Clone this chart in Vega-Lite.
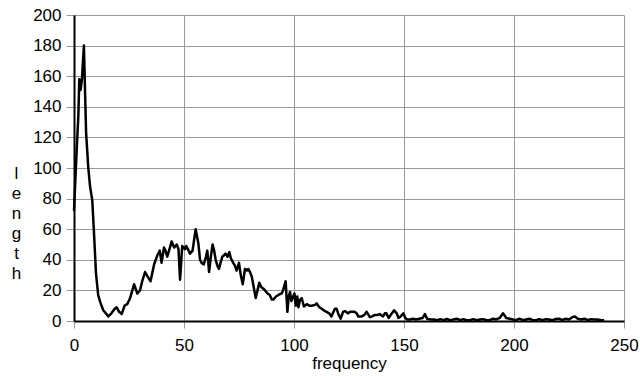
{
  "$schema": "https://vega.github.io/schema/vega-lite/v6.json",
  "width": 550,
  "height": 306,
  "autosize": {"type": "none"},
  "padding": {"left": 74, "top": 15, "right": 16, "bottom": 55},
  "background": "white",
  "config": {
    "view": {"stroke": null},
    "font": "Liberation Sans",
    "axis": {
      "labelFont": "Liberation Sans",
      "titleFont": "Liberation Sans",
      "labelFontSize": 17,
      "titleFontSize": 17,
      "labelColor": "black",
      "titleColor": "black",
      "titleFontWeight": "normal",
      "gridColor": "#999999",
      "gridWidth": 1,
      "gridOpacity": 1,
      "tickColor": "#999999",
      "tickWidth": 1,
      "domainColor": "black",
      "domainWidth": 2
    }
  },
  "data": {
    "values": [
      {"f": 0, "v": 72}, {"f": 1, "v": 105}, {"f": 2, "v": 135}, {"f": 2.4, "v": 158}, {"f": 3, "v": 151}, {"f": 3.6, "v": 158}, {"f": 4.5, "v": 180}, {"f": 5.5, "v": 123}, {"f": 6.5, "v": 100}, {"f": 7.3, "v": 88}, {"f": 8.3, "v": 79}, {"f": 9, "v": 60}, {"f": 10, "v": 31}, {"f": 11, "v": 17}, {"f": 12, "v": 12}, {"f": 13.3, "v": 7}, {"f": 14.5, "v": 5}, {"f": 15.6, "v": 3}, {"f": 17, "v": 5}, {"f": 18.5, "v": 8}, {"f": 19.4, "v": 9}, {"f": 20.5, "v": 6}, {"f": 21.7, "v": 4.6}, {"f": 23, "v": 10}, {"f": 24.2, "v": 11}, {"f": 25.5, "v": 15}, {"f": 27.3, "v": 24}, {"f": 28.8, "v": 18}, {"f": 30, "v": 20}, {"f": 31, "v": 26}, {"f": 32.3, "v": 32}, {"f": 33.5, "v": 29}, {"f": 34.8, "v": 26}, {"f": 36.4, "v": 37}, {"f": 37.9, "v": 43}, {"f": 39, "v": 46}, {"f": 39.8, "v": 38}, {"f": 40.9, "v": 48}, {"f": 41.6, "v": 46}, {"f": 42.4, "v": 42}, {"f": 43.4, "v": 47}, {"f": 44.4, "v": 52}, {"f": 45.5, "v": 48}, {"f": 46.7, "v": 50}, {"f": 47.5, "v": 47}, {"f": 48.2, "v": 27}, {"f": 49.2, "v": 49}, {"f": 50.5, "v": 47}, {"f": 51, "v": 49}, {"f": 51.8, "v": 47}, {"f": 52.7, "v": 44}, {"f": 53.9, "v": 46}, {"f": 55.3, "v": 60}, {"f": 56.5, "v": 51}, {"f": 57.3, "v": 40}, {"f": 58, "v": 38}, {"f": 59, "v": 37}, {"f": 60, "v": 42}, {"f": 60.6, "v": 46}, {"f": 61.4, "v": 32}, {"f": 62.2, "v": 42}, {"f": 63, "v": 50}, {"f": 63.7, "v": 46}, {"f": 64.4, "v": 40}, {"f": 65.2, "v": 36}, {"f": 65.9, "v": 34}, {"f": 66.6, "v": 38}, {"f": 67.4, "v": 42}, {"f": 68.2, "v": 43}, {"f": 68.9, "v": 44}, {"f": 69.8, "v": 42}, {"f": 70.6, "v": 45}, {"f": 71.3, "v": 41}, {"f": 72.4, "v": 38}, {"f": 73.2, "v": 36}, {"f": 73.9, "v": 33}, {"f": 75, "v": 38}, {"f": 75.8, "v": 30}, {"f": 76.7, "v": 24}, {"f": 77.7, "v": 34}, {"f": 78.5, "v": 33}, {"f": 79.2, "v": 34}, {"f": 80, "v": 32}, {"f": 80.8, "v": 29}, {"f": 81.7, "v": 22}, {"f": 82.6, "v": 15}, {"f": 83.4, "v": 20}, {"f": 84.2, "v": 25}, {"f": 85.2, "v": 22}, {"f": 86.2, "v": 21}, {"f": 86.8, "v": 20}, {"f": 88, "v": 18}, {"f": 89, "v": 17}, {"f": 89.9, "v": 14}, {"f": 90.6, "v": 14}, {"f": 91.8, "v": 16}, {"f": 92.9, "v": 17}, {"f": 94.4, "v": 18}, {"f": 95, "v": 20}, {"f": 96.2, "v": 26}, {"f": 97, "v": 6}, {"f": 97.6, "v": 16}, {"f": 98.2, "v": 19}, {"f": 98.8, "v": 13}, {"f": 99.4, "v": 15}, {"f": 100.2, "v": 18}, {"f": 100.8, "v": 10}, {"f": 101.5, "v": 16}, {"f": 102, "v": 9}, {"f": 102.8, "v": 14}, {"f": 103.5, "v": 15}, {"f": 104.5, "v": 9.5}, {"f": 105.8, "v": 11}, {"f": 107, "v": 10}, {"f": 108, "v": 10}, {"f": 109.5, "v": 10.5}, {"f": 110.3, "v": 11.5}, {"f": 111.5, "v": 9}, {"f": 112.6, "v": 8}, {"f": 113.5, "v": 7}, {"f": 114.8, "v": 6}, {"f": 116, "v": 5}, {"f": 117, "v": 3}, {"f": 118.6, "v": 8}, {"f": 119.4, "v": 8}, {"f": 120.3, "v": 4}, {"f": 121.2, "v": 1.5}, {"f": 122.3, "v": 6}, {"f": 123.2, "v": 6.5}, {"f": 124.5, "v": 5}, {"f": 125.5, "v": 6}, {"f": 126.5, "v": 6}, {"f": 127.5, "v": 6}, {"f": 128.5, "v": 5}, {"f": 129.2, "v": 3}, {"f": 130.8, "v": 3}, {"f": 132, "v": 4}, {"f": 133, "v": 6}, {"f": 134.5, "v": 2.5}, {"f": 135.5, "v": 3}, {"f": 136.8, "v": 4}, {"f": 138, "v": 4}, {"f": 139, "v": 4.5}, {"f": 140.5, "v": 3}, {"f": 141.3, "v": 5}, {"f": 142, "v": 5}, {"f": 143, "v": 2}, {"f": 144, "v": 4}, {"f": 145.5, "v": 7}, {"f": 146.7, "v": 5}, {"f": 147.5, "v": 2}, {"f": 148.5, "v": 3}, {"f": 149.7, "v": 5}, {"f": 150.6, "v": 2}, {"f": 151.5, "v": 1}, {"f": 152.7, "v": 1}, {"f": 154, "v": 1.5}, {"f": 155.5, "v": 1}, {"f": 157, "v": 1.5}, {"f": 158.5, "v": 2}, {"f": 159.5, "v": 4.5}, {"f": 160.5, "v": 1.5}, {"f": 162, "v": 1}, {"f": 163.5, "v": 1}, {"f": 165, "v": 0.5}, {"f": 166.5, "v": 1.2}, {"f": 168, "v": 0.5}, {"f": 169.5, "v": 1.3}, {"f": 171, "v": 0.5}, {"f": 172.5, "v": 1}, {"f": 174, "v": 1.5}, {"f": 175.5, "v": 0.5}, {"f": 177, "v": 1.2}, {"f": 178.5, "v": 0.5}, {"f": 180, "v": 0.5}, {"f": 181.5, "v": 1.2}, {"f": 183, "v": 0.5}, {"f": 184.5, "v": 1}, {"f": 186, "v": 1.2}, {"f": 187.5, "v": 0.5}, {"f": 189, "v": 0.5}, {"f": 190.5, "v": 1.5}, {"f": 192, "v": 1}, {"f": 193.5, "v": 2}, {"f": 195, "v": 5}, {"f": 196.5, "v": 2}, {"f": 198, "v": 1.5}, {"f": 199.5, "v": 1}, {"f": 201, "v": 0.5}, {"f": 202.5, "v": 1.5}, {"f": 204, "v": 0.5}, {"f": 205.5, "v": 1}, {"f": 207, "v": 1.5}, {"f": 208.5, "v": 0.5}, {"f": 210, "v": 0.5}, {"f": 211.5, "v": 1.2}, {"f": 213, "v": 0.5}, {"f": 214.5, "v": 1.2}, {"f": 216, "v": 1}, {"f": 217.5, "v": 0.5}, {"f": 219, "v": 1.3}, {"f": 220.5, "v": 1.5}, {"f": 222, "v": 0.5}, {"f": 223.5, "v": 1.5}, {"f": 225, "v": 1}, {"f": 226.5, "v": 2.5}, {"f": 227.7, "v": 3}, {"f": 229, "v": 1.5}, {"f": 230.5, "v": 1}, {"f": 232, "v": 1.5}, {"f": 233.5, "v": 0.5}, {"f": 235, "v": 1.2}, {"f": 236.5, "v": 1}, {"f": 238, "v": 1}, {"f": 239.5, "v": 0.5}, {"f": 241, "v": 0.5}
    ]
  },
  "mark": {"type": "line", "color": "black", "strokeWidth": 2.5, "strokeJoin": "round"},
  "encoding": {
    "x": {
      "field": "f",
      "type": "quantitative",
      "scale": {"domain": [0, 250], "nice": false, "zero": true},
      "axis": {
        "title": "frequency",
        "values": [0, 50, 100, 150, 200, 250],
        "tickSize": 7,
        "labelPadding": 9,
        "labelFlush": false,
        "titlePadding": 2
      }
    },
    "y": {
      "field": "v",
      "type": "quantitative",
      "scale": {"domain": [0, 200], "nice": false},
      "axis": {
        "title": ["l", "e", "n", "g", "t", "h"],
        "values": [0, 20, 40, 60, 80, 100, 120, 140, 160, 180, 200],
        "tickSize": 8,
        "labelPadding": 5,
        "labelFlush": false,
        "titleAngle": 0,
        "titleAlign": "center",
        "titleBaseline": "middle",
        "titleLineHeight": 20,
        "titleX": -58,
        "titleY": 158
      }
    }
  }
}
